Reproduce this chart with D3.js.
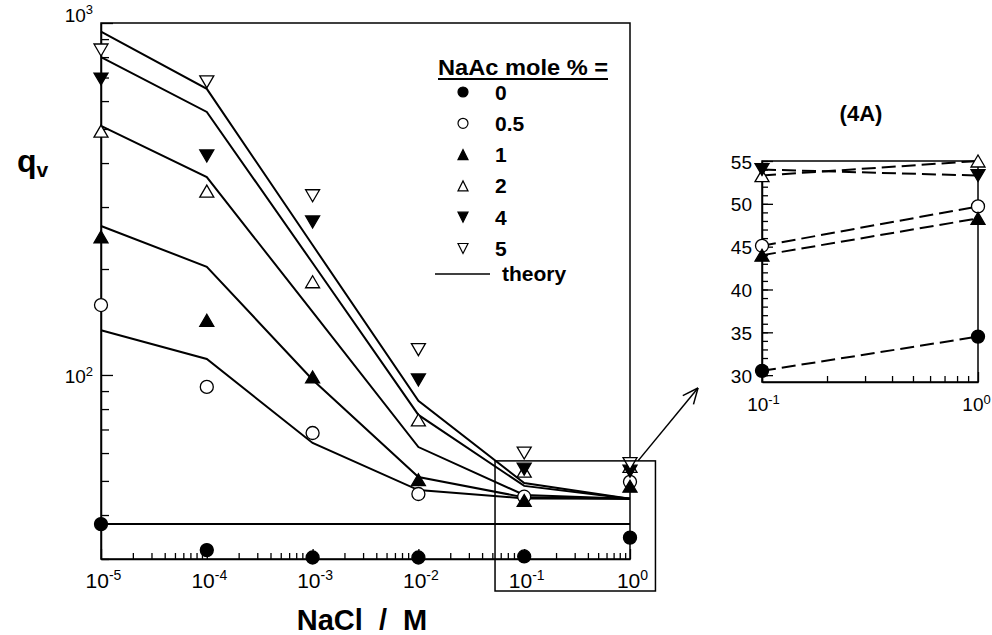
<!DOCTYPE html>
<html>
<head>
<meta charset="utf-8">
<script src="https://cdn.jsdelivr.net/npm/d3@7"></script>
<style>
body { margin: 0; background: #fff; }
svg { font-family: "Liberation Sans", Arial, sans-serif; }
</style>
</head>
<body>
<script>
// NaCl concentration (M) and NaAc mole % series
const nacl = [1e-5, 1e-4, 1e-3, 1e-2, 1e-1, 1];
const molePct = ["0", "0.5", "1", "2", "4", "5"];

// measured q_v
const meas0  = [37.7, 31.8, 30.3, 30.3, 30.5, 34.5];
const meas05 = [158, 92.5, 68.4, 45.9, 45.1, 49.7];
const meas1  = [247, 143, 98.7, 50.4, 44.0, 48.3];
const meas2  = [493, 333, 184, 74.5, 53.3, 55.0];
const meas4  = [693, 419, 272, 96.8, 54.0, 53.3];
const meas5  = [838, 680, 323, 118, 60.0, 56.0];

// theory curves
const theo0  = [37.7, 37.7, 37.7, 37.7, 37.7, 37.7];
const theo05 = [134, 111, 64.1, 47.1, 44.6, 44.5];
const theo1  = [265, 203, 96.9, 51.3, 44.9, 44.5];
const theo2  = [510, 365, 151, 62.4, 45.6, 44.5];
const theo4  = [800, 559, 208, 77, 48.4, 44.5];
const theo5  = [945, 650, 234, 84.4, 49.3, 44.5];

// inset (4A): the last two NaCl points of series 0..4
const insetX = [0.1, 1];
const insetSeries = [0, 1, 2, 3, 4];
const insetYTicks = [30, 35, 40, 45, 50, 55];

const measured = [meas0, meas05, meas1, meas2, meas4, meas5];
const theory = [theo0, theo05, theo1, theo2, theo4, theo5];
const shapes = ["circle", "circle", "up", "up", "down", "down"];
const filled = [true, false, true, false, true, false];

const W = 992, H = 635;
const svg = d3.select("body").append("svg")
  .attr("width", W).attr("height", H);

// ---------- main plot ----------
const x = d3.scaleLog().domain([1e-5, 1]).range([101, 630]);
const y = d3.scaleLog().domain([30, 1000]).range([559, 23]);

function minorTicks(lo, hi) {
  let t = [];
  for (let e = lo; e < hi; e++)
    for (let m = 2; m <= 9; m++) t.push(m * Math.pow(10, e));
  return t;
}

function symPath(shape, w, h) {
  if (shape === "circle") {
    let r = w / 2;
    return `M${r},0A${r},${r} 0 1,1 ${-r},0A${r},${r} 0 1,1 ${r},0Z`;
  }
  let s = shape === "up" ? 1 : -1;
  return `M${-w / 2},${s * h / 2}L${w / 2},${s * h / 2}L0,${-s * h / 2}Z`;
}

function supLabel(sel, base, exp, size, supSize) {
  sel.text(null).attr("font-size", size);
  sel.append("tspan").attr("font-size", size).text(base);
  sel.append("tspan").attr("font-size", supSize).attr("dy", -size * 0.38).text(exp);
}

const main = svg.append("g");

// frame
main.append("rect")
  .attr("x", x(1e-5)).attr("y", y(1000))
  .attr("width", x(1) - x(1e-5)).attr("height", y(30) - y(1000))
  .attr("fill", "none").attr("stroke", "#000").attr("stroke-width", 1.5);

// bottom axis
main.append("g").attr("transform", `translate(0,${y(30)})`)
  .call(d3.axisBottom(x).tickValues(minorTicks(-5, 0)).tickSize(-6).tickFormat(""))
  .call(g => g.select(".domain").remove());
const xAx = main.append("g").attr("transform", `translate(0,${y(30)})`)
  .call(d3.axisBottom(x).tickValues(nacl).tickSize(-10).tickSizeOuter(0));
xAx.select(".domain").attr("stroke-width", 1.5);
xAx.selectAll("text").attr("fill", "#000").each(function(d) {
  supLabel(d3.select(this), "10", String(Math.round(Math.log10(d))), 21, 14);
}).attr("dy", 0).attr("y", 29).attr("dx", 2);

// left axis
main.append("g").attr("transform", `translate(${x(1e-5)},0)`)
  .call(d3.axisLeft(y).tickValues(minorTicks(1, 3).filter(v => v >= 30)).tickSize(-8).tickFormat(""))
  .call(g => g.select(".domain").remove());
const yAx = main.append("g").attr("transform", `translate(${x(1e-5)},0)`)
  .call(d3.axisLeft(y).tickValues([100, 1000]).tickSize(-12).tickSizeOuter(0).tickPadding(8));
yAx.select(".domain").attr("stroke-width", 1.5);
yAx.selectAll("text").attr("fill", "#000").each(function(d) {
  supLabel(d3.select(this), "10", String(Math.round(Math.log10(d))), 19, 13);
}).attr("dy", d => d === 1000 ? -2 : 8);
svg.selectAll(".tick line").attr("stroke-width", 1.3);

// theory lines
const line = d3.line().x((d, i) => x(nacl[i])).y(d => y(d));
main.selectAll("path.theory").data(theory).join("path")
  .attr("class", "theory")
  .attr("d", line)
  .attr("fill", "none").attr("stroke", "#000").attr("stroke-width", 2);

// measured points
measured.forEach((vals, s) => {
  main.selectAll(null).data(vals).join("path")
    .attr("transform", (d, i) => `translate(${x(nacl[i])},${y(d)})`)
    .attr("d", symPath(shapes[s], shapes[s] === "circle" ? 13 : 14, 12))
    .attr("fill", filled[s] ? "#000" : "#fff")
    .attr("stroke", "#000").attr("stroke-width", 1.3);
});

// axis titles
const qv = svg.append("text").attr("x", 17).attr("y", 172)
  .attr("font-weight", "bold").attr("fill", "#000");
qv.append("tspan").attr("font-size", 32).text("q");
qv.append("tspan").attr("font-size", 21).attr("dy", 5).text("v");

svg.append("text").attr("x", 362).attr("y", 630)
  .attr("text-anchor", "middle").attr("font-size", 29).attr("font-weight", "bold")
  .attr("xml:space", "preserve").style("white-space", "pre")
  .text("NaCl  /  M");

// ---------- legend ----------
const leg = svg.append("g");
leg.append("text").attr("x", 438).attr("y", 75)
  .attr("font-size", 22).attr("font-weight", "bold")
  .attr("textLength", 170).attr("lengthAdjust", "spacingAndGlyphs")
  .text("NaAc mole % =");
leg.append("line").attr("x1", 438).attr("x2", 608).attr("y1", 79).attr("y2", 79)
  .attr("stroke", "#000").attr("stroke-width", 1.8);

molePct.forEach((p, i) => {
  const cy = 92 + i * 31.3;
  leg.append("path")
    .attr("transform", `translate(463,${cy})`)
    .attr("d", symPath(shapes[i], 10, 10))
    .attr("fill", filled[i] ? "#000" : "#fff")
    .attr("stroke", "#000").attr("stroke-width", 1.2);
  leg.append("text").attr("x", 495).attr("y", cy + 7.5)
    .attr("font-size", 21).attr("font-weight", "bold").text(p);
});
leg.append("line").attr("x1", 435).attr("x2", 490).attr("y1", 274).attr("y2", 274)
  .attr("stroke", "#000").attr("stroke-width", 1.5);
leg.append("text").attr("x", 502).attr("y", 281)
  .attr("font-size", 21).attr("font-weight", "bold").text("theory");

// ---------- zoom box + arrow ----------
const boxX0 = 0.053, boxX1 = 1.74, boxTop = 57;
svg.append("rect")
  .attr("x", x(boxX0)).attr("y", y(boxTop))
  .attr("width", x(boxX1) - x(boxX0)).attr("height", y(30) + 32 - y(boxTop))
  .attr("fill", "none").attr("stroke", "#000").attr("stroke-width", 1.5);

// ---------- inset (4A) ----------
const xi = d3.scaleLog().domain([0.1, 1]).range([762, 978]);
const yi = d3.scaleLinear().domain([29.2, 55]).range([382, 161]);

const ax0 = [x(1) + 8, y(boxTop)], ax1 = [xi(0.1) - 64, yi(29.2) + 6];
svg.append("line").attr("x1", ax0[0]).attr("y1", ax0[1]).attr("x2", ax1[0]).attr("y2", ax1[1])
  .attr("stroke", "#000").attr("stroke-width", 1.5);
{
  const dx = ax1[0] - ax0[0], dy = ax1[1] - ax0[1], L = Math.hypot(dx, dy);
  const ux = dx / L, uy = dy / L, a = 24 * Math.PI / 180, hl = 17;
  [a, -a].forEach(t => {
    const c = Math.cos(t), s = Math.sin(t);
    const bx = -(ux * c - uy * s), by = -(ux * s + uy * c);
    svg.append("line").attr("x1", ax1[0]).attr("y1", ax1[1])
      .attr("x2", ax1[0] + bx * hl).attr("y2", ax1[1] + by * hl)
      .attr("stroke", "#000").attr("stroke-width", 1.5);
  });
}

const ins = svg.append("g");
ins.append("rect")
  .attr("x", xi(0.1)).attr("y", yi(55))
  .attr("width", xi(1) - xi(0.1)).attr("height", yi(29.2) - yi(55))
  .attr("fill", "none").attr("stroke", "#000").attr("stroke-width", 1.5);

ins.append("g").attr("transform", `translate(0,${yi(29.2)})`)
  .call(d3.axisBottom(xi).tickValues(minorTicks(-1, 0)).tickSize(-6).tickFormat(""))
  .call(g => g.select(".domain").remove());
const xiAx = ins.append("g").attr("transform", `translate(0,${yi(29.2)})`)
  .call(d3.axisBottom(xi).tickValues(insetX).tickSize(-10).tickSizeOuter(0));
xiAx.select(".domain").attr("stroke-width", 1.5);
xiAx.selectAll("text").attr("fill", "#000").each(function(d) {
  supLabel(d3.select(this), "10", String(Math.round(Math.log10(d))), 19, 13);
}).attr("dy", 0).attr("y", 29).attr("dx", d => d === 1 ? -2 : 1);

ins.append("g").attr("transform", `translate(${xi(0.1)},0)`)
  .call(d3.axisLeft(yi).tickValues(d3.range(30, 56, 1)).tickSize(-6).tickFormat(""))
  .call(g => g.select(".domain").remove());
const yiAx = ins.append("g").attr("transform", `translate(${xi(0.1)},0)`)
  .call(d3.axisLeft(yi).tickValues(insetYTicks).tickSize(-11).tickSizeOuter(0).tickPadding(10));
yiAx.select(".domain").attr("stroke-width", 1.5);
yiAx.selectAll("text").attr("fill", "#000").attr("font-size", 19).attr("dy", 7);
ins.selectAll(".tick line").attr("stroke-width", 1.3);

const iline = d3.line().x((d, i) => xi(insetX[i])).y(d => yi(d));
insetSeries.forEach(s => {
  const vals = measured[s].slice(4);
  ins.append("path").attr("d", iline(vals))
    .attr("fill", "none").attr("stroke", "#000").attr("stroke-width", 2)
    .attr("stroke-dasharray", "14,6");
});
insetSeries.forEach(s => {
  const vals = measured[s].slice(4);
  ins.selectAll(null).data(vals).join("path")
    .attr("transform", (d, i) => `translate(${xi(insetX[i])},${yi(d)})`)
    .attr("d", symPath(shapes[s], shapes[s] === "circle" ? 13 : 14, 12))
    .attr("fill", filled[s] ? "#000" : "#fff")
    .attr("stroke", "#000").attr("stroke-width", 1.3);
});

svg.append("text").attr("x", 861).attr("y", 121)
  .attr("text-anchor", "middle").attr("font-size", 22).attr("font-weight", "bold")
  .text("(4A)");
</script>
</body>
</html>
